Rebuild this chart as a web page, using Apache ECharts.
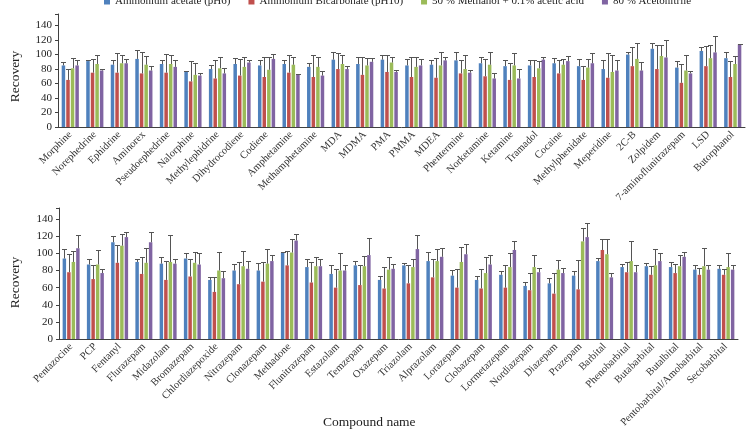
<!DOCTYPE html>
<html>
<head>
<meta charset="utf-8">
<script src="https://cdn.jsdelivr.net/npm/echarts@6/dist/echarts.min.js"></script>
<style>
  html, body { margin: 0; padding: 0; background: #fff; }
  #chart { width: 756px; height: 432px; }
</style>
</head>
<body>
<div id="chart"></div>
<script>
const seriesNames = ['Ammonium acetate (pH6)', 'Ammonium Bicarbonate (pH10)', '50 % Methanol + 0.1% acetic acid', '80 % Acetonitrile']
const colors = ['#4F81BD', '#C0504D', '#9BBB59', '#8064A2']
const yTicks = [0, 20, 40, 60, 80, 100, 120, 140]

// upper panel
const topNames = ['Morphine', 'Norephedrine', 'Ephidrine', 'Aminorex', 'Pseudoephedrine', 'Nalorphine', 'Methylephidrine',
  'Dihydrocodiene', 'Codiene', 'Amphetamine', 'Methamphetamine', 'MDA', 'MDMA', 'PMA', 'PMMA', 'MDEA', 'Phentermine',
  'Norketamine', 'Ketamine', 'Tramadol', 'Cocaine', 'Methylphenidate', 'Meperidine', '2C-B', 'Zolpidem',
  '7-aminoflunitrazepam', 'LSD', 'Butorphanol']
const topAcetate = [85, 91, 86, 94, 87, 77, 80, 87, 85, 87, 83, 93, 87, 93, 85, 86, 92, 88, 84, 85, 88, 84, 80, 100, 108, 82, 105, 95]
const topAcetateErr = [5, 2, 6, 12, 5, 1, 6, 8, 8, 5, 6, 10, 10, 6, 9, 6, 12, 9, 8, 8, 7, 10, 12, 4, 8, 9, 6, 9]
const topBicarb = [65, 75, 75, 74, 75, 63, 67, 71, 69, 75, 69, 80, 72, 76, 69, 68, 74, 70, 65, 69, 74, 65, 68, 84, 80, 61, 84, 69]
const topBicarbErr = [15, 19, 27, 30, 26, 28, 25, 23, 27, 25, 31, 22, 25, 23, 27, 27, 19, 24, 23, 23, 18, 19, 34, 27, 33, 26, 28, 22]
const topMethanol = [81, 87, 88, 86, 87, 72, 81, 83, 79, 86, 83, 87, 85, 89, 83, 85, 80, 86, 85, 81, 86, 82, 76, 94, 98, 78, 95, 87]
const topMethanolErr = [14, 12, 12, 12, 12, 16, 15, 14, 18, 11, 14, 12, 10, 8, 13, 19, 20, 17, 17, 10, 8, 12, 24, 22, 15, 22, 18, 11]
const topAcn = [85, 78, 88, 78, 83, 71, 74, 89, 94, 72, 71, 80, 90, 76, 85, 92, 75, 67, 67, 93, 91, 88, 78, 78, 96, 74, 103, 114]
const topAcnErr = [7, 2, 6, 6, 9, 4, 7, 3, 7, 1, 7, 4, 5, 3, 9, 5, 4, 8, 13, 3, 7, 14, 14, 12, 24, 4, 23, 1]

// lower panel
const bottomNames = ['Pentazocine', 'PCP', 'Fentanyl', 'Flurazepam', 'Midazolam', 'Bromazepam', 'Chlordiazepoxide',
  'Nitrazepam', 'Clonazepam', 'Methadone', 'Flunitrazepam', 'Estazolam', 'Temzepam', 'Oxazepam', 'Triazolam',
  'Alprazolam', 'Lorazepam', 'Clobazepam', 'Lormetazepam', 'Nordiazepam', 'Diazepam', 'Prazepam', 'Barbital',
  'Phenobarbital', 'Butabarbital', 'Butalbital', 'Pentobarbital/Amobarbital', 'Secobarbital']
const bottomAcetate = [94, 87, 113, 90, 88, 94, 69, 80, 80, 101, 84, 76, 86, 69, 86, 91, 74, 69, 75, 62, 65, 74, 91, 84, 85, 84, 81, 82]
const bottomAcetateErr = [11, 7, 7, 3, 8, 7, 3, 8, 9, 1, 10, 10, 5, 4, 3, 11, 7, 4, 5, 4, 6, 6, 4, 4, 4, 6, 5, 4]
const bottomBicarb = [78, 70, 89, 76, 69, 73, 55, 64, 67, 86, 66, 60, 63, 59, 65, 72, 60, 59, 60, 57, 53, 58, 104, 78, 75, 77, 75, 75]
const bottomBicarbErr = [21, 17, 21, 20, 22, 20, 17, 26, 23, 17, 24, 22, 23, 25, 21, 22, 22, 23, 27, 20, 24, 34, 13, 12, 10, 11, 8, 7]
const bottomMethanol = [90, 87, 109, 89, 90, 89, 80, 85, 88, 101, 85, 80, 85, 81, 84, 91, 90, 77, 84, 84, 81, 114, 99, 91, 86, 85, 85, 84]
const bottomMethanolErr = [13, 17, 14, 17, 31, 13, 22, 18, 17, 16, 11, 20, 12, 15, 10, 14, 17, 19, 17, 14, 11, 16, 18, 23, 19, 13, 21, 17]
const bottomAcn = [106, 77, 119, 113, 88, 87, 71, 82, 91, 115, 85, 80, 98, 82, 105, 96, 99, 87, 104, 78, 77, 119, 72, 78, 91, 96, 81, 81]
const bottomAcnErr = [16, 5, 6, 12, 5, 13, 8, 9, 7, 8, 8, 6, 20, 6, 17, 10, 12, 11, 11, 5, 6, 16, 5, 9, 9, 6, 5, 6]

const panels = [
  { names: topNames, vals: [topAcetate, topBicarb, topMethanol, topAcn], errs: [topAcetateErr, topBicarbErr, topMethanolErr, topAcnErr] },
  { names: bottomNames, vals: [bottomAcetate, bottomBicarb, bottomMethanol, bottomAcn], errs: [bottomAcetateErr, bottomBicarbErr, bottomMethanolErr, bottomAcnErr] },
]

const serif = 'Liberation Serif'
const CAT_GAP = 0.3
const BAR_GAP = 0.3

// error bars sit on the same slots ECharts gives the bars
function errorBars(vals, errs) {
  return function (params, api) {
    const i = api.value(0)
    const n = vals.length
    const catW = api.size([1, 0])[0]
    const bw = (catW * (1 - CAT_GAP)) / (n + (n - 1) * BAR_GAP)
    const total = bw * n + bw * BAR_GAP * (n - 1)
    const children = []
    for (let s = 0; s < n; s++) {
      const base = api.coord([i, vals[s][i]])
      const top = api.coord([i, vals[s][i] + errs[s][i]])
      const x = Math.round(base[0] - total / 2 + s * bw * (1 + BAR_GAP) + bw / 2) + 0.5
      const yt = Math.round(top[1]) + 0.5
      const style = { stroke: '#555', lineWidth: 1 }
      children.push({ type: 'line', shape: { x1: x, y1: base[1], x2: x, y2: yt }, style })
      children.push({ type: 'line', shape: { x1: x - 2.5, y1: yt, x2: x + 2.5, y2: yt }, style })
    }
    return { type: 'group', children }
  }
}

const grids = [
  { left: 47, right: 11, top: 14, height: 113 },
  { left: 51, right: 18, top: 208, height: 131 },
]
const yMax = [156, 153]

const xAxes = panels.map((p, k) => ({
  type: 'category',
  gridIndex: k,
  data: p.names,
  axisLine: { lineStyle: { color: '#404040', width: 1 } },
  axisTick: { show: false },
  axisLabel: { interval: 0, rotate: 45, fontFamily: serif, fontSize: 10.5, color: '#333', margin: 6 },
}))

const yAxes = panels.map((p, k) => ({
  type: 'value',
  gridIndex: k,
  min: 0,
  max: yMax[k],
  interval: 20,
  name: 'Recovery',
  nameLocation: 'middle',
  nameGap: k === 0 ? 36 : 37,
  nameTextStyle: { fontFamily: serif, fontSize: 13.5, color: '#222', padding: k === 0 ? [0, 12, 0, 0] : [0, 18, 0, 0] },
  axisLine: { show: true, lineStyle: { color: '#404040', width: 1 } },
  axisTick: { show: true, length: 3, lineStyle: { color: '#404040' } },
  axisLabel: {
    fontFamily: serif, fontSize: 11, color: '#222', margin: 6,
    formatter: v => (yTicks.includes(v) ? String(v) : ''),
  },
  splitLine: { show: false },
}))

const series = []
panels.forEach((p, k) => {
  p.vals.forEach((v, s) => {
    series.push({
      name: seriesNames[s],
      type: 'bar',
      xAxisIndex: k,
      yAxisIndex: k,
      data: v,
      itemStyle: { color: colors[s] },
      barCategoryGap: CAT_GAP * 100 + '%',
      barGap: BAR_GAP * 100 + '%',
    })
  })
  series.push({
    type: 'custom',
    xAxisIndex: k,
    yAxisIndex: k,
    z: 5,
    data: p.names.map((_, i) => [i]),
    encode: { x: 0 },
    renderItem: errorBars(p.vals, p.errs),
  })
})

const chart = echarts.init(document.getElementById('chart'), null, { renderer: 'canvas' })
chart.setOption({
  animation: false,
  backgroundColor: '#fff',
  legend: {
    data: seriesNames,
    top: -9,
    left: 99,
    width: 700,
    icon: 'rect',
    itemWidth: 6,
    itemHeight: 6,
    itemGap: 18,
    textStyle: { fontFamily: serif, fontSize: 11, color: '#222' },
  },
  grid: grids,
  xAxis: xAxes,
  yAxis: yAxes,
  series: series,
  graphic: [{
    type: 'text',
    left: 323,
    top: 415,
    style: { text: 'Compound name', font: '13.5px "Liberation Serif"', fill: '#222' },
  }],
})
</script>
</body>
</html>
